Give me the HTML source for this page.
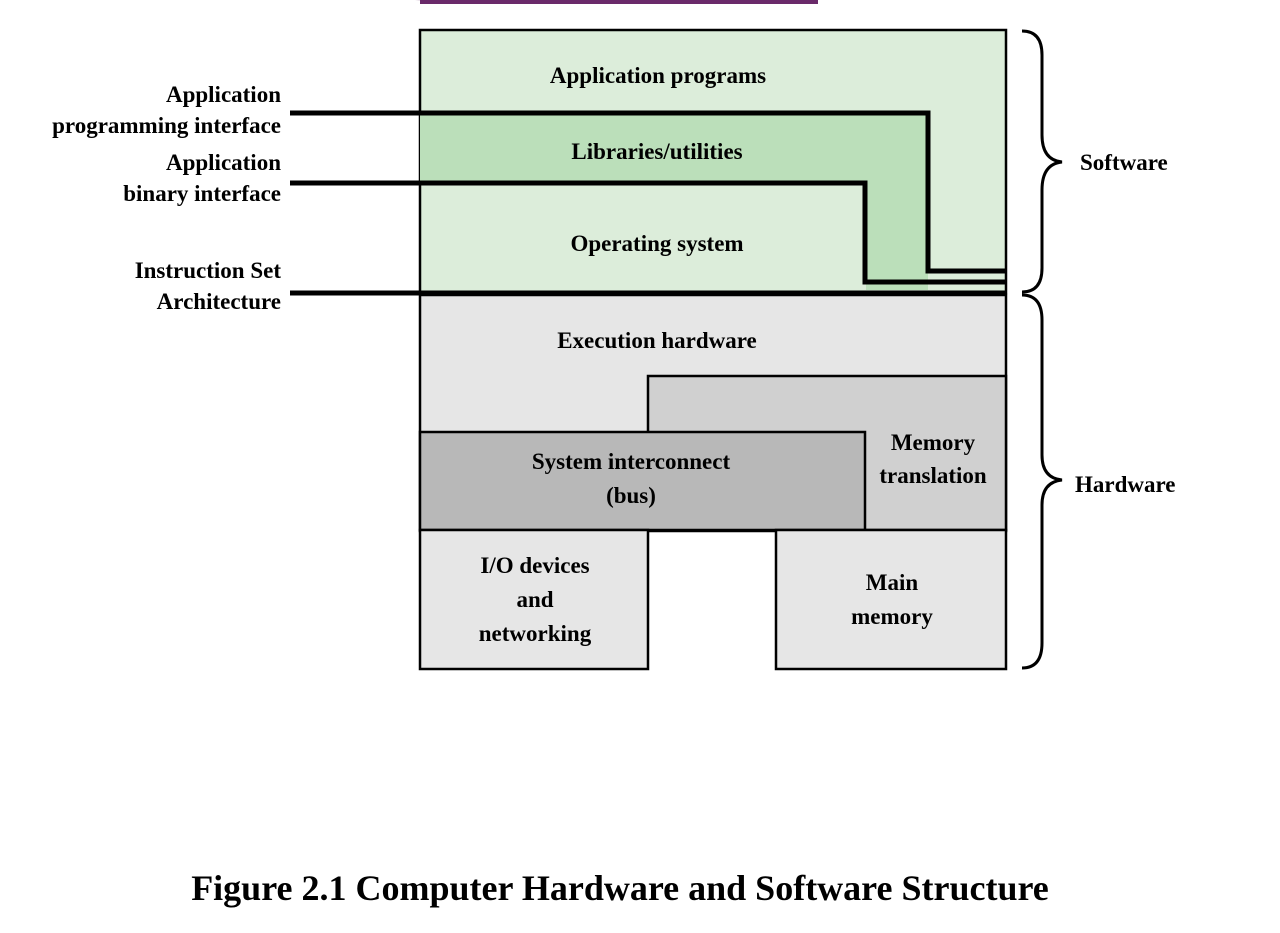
<!DOCTYPE html>
<html><head><style>
body{margin:0;background:#fff;width:1280px;height:928px;overflow:hidden}
svg text{font-family:"Liberation Serif",serif;font-weight:bold;fill:#000}
</style></head><body>
<svg width="1280" height="928" viewBox="0 0 1280 928">
<path d="M415 0 Q615 8 818 0 L818 -2 L415 -2Z" fill="#6a2a6a"/>
<rect x="420" y="0" width="398" height="4" fill="#6a2a6a"/>
<!-- software -->
<rect x="420" y="30" width="586" height="263" fill="#dcedda" stroke="#000" stroke-width="2.5"/>
<path d="M420 113 H928 V271 H866 V183 H420Z" fill="#bbdfba"/>
<path d="M866 183 H928 V290 H866Z" fill="#bbdfba"/>
<g stroke="#000" stroke-width="5" fill="none">
<path d="M290 113 H928 V271 H1006"/>
<path d="M290 183 H865 V282 H1006"/>
<path d="M290 293 H1006"/>
</g>
<!-- hardware -->
<rect x="420" y="295" width="586" height="236" fill="#e6e6e6" stroke="#000" stroke-width="2.5"/>
<rect x="648" y="376" width="358" height="154" fill="#d0d0d0" stroke="#000" stroke-width="2.5"/>
<rect x="420" y="432" width="445" height="98" fill="#b8b8b8" stroke="#000" stroke-width="2.5"/>
<rect x="420" y="530" width="228" height="139" fill="#e6e6e6" stroke="#000" stroke-width="2.5"/>
<rect x="776" y="530" width="230" height="139" fill="#e6e6e6" stroke="#000" stroke-width="2.5"/>
<!-- braces -->
<g stroke="#000" stroke-width="3" fill="none">
<path d="M1022 31 Q1042 31 1042 55 V135 Q1042 160 1062 162 Q1042 164 1042 190 V268 Q1042 292 1022 292"/>
<path d="M1022 295 Q1042 295 1042 320 V455 Q1042 478 1062 480 Q1042 482 1042 505 V643 Q1042 668 1022 668"/>
</g>
<g font-size="23">
<text x="658" y="83" text-anchor="middle">Application programs</text>
<text x="657" y="159" text-anchor="middle">Libraries/utilities</text>
<text x="657" y="251" text-anchor="middle">Operating system</text>
<text x="657" y="348" text-anchor="middle">Execution hardware</text>
<text x="631" y="469" text-anchor="middle">System interconnect</text>
<text x="631" y="503" text-anchor="middle">(bus)</text>
<text x="933" y="450" text-anchor="middle">Memory</text>
<text x="933" y="483" text-anchor="middle">translation</text>
<text x="535" y="573" text-anchor="middle">I/O devices</text>
<text x="535" y="607" text-anchor="middle">and</text>
<text x="535" y="641" text-anchor="middle">networking</text>
<text x="892" y="590" text-anchor="middle">Main</text>
<text x="892" y="624" text-anchor="middle">memory</text>
<text x="1080" y="170">Software</text>
<text x="1075" y="492">Hardware</text>
<text x="281" y="102" text-anchor="end">Application</text>
<text x="281" y="133" text-anchor="end">programming interface</text>
<text x="281" y="170" text-anchor="end">Application</text>
<text x="281" y="201" text-anchor="end">binary interface</text>
<text x="281" y="278" text-anchor="end">Instruction Set</text>
<text x="281" y="309" text-anchor="end">Architecture</text>
</g>
<text x="620" y="900" text-anchor="middle" font-size="36">Figure 2.1  Computer Hardware and Software Structure</text>
</svg>
</body></html>
